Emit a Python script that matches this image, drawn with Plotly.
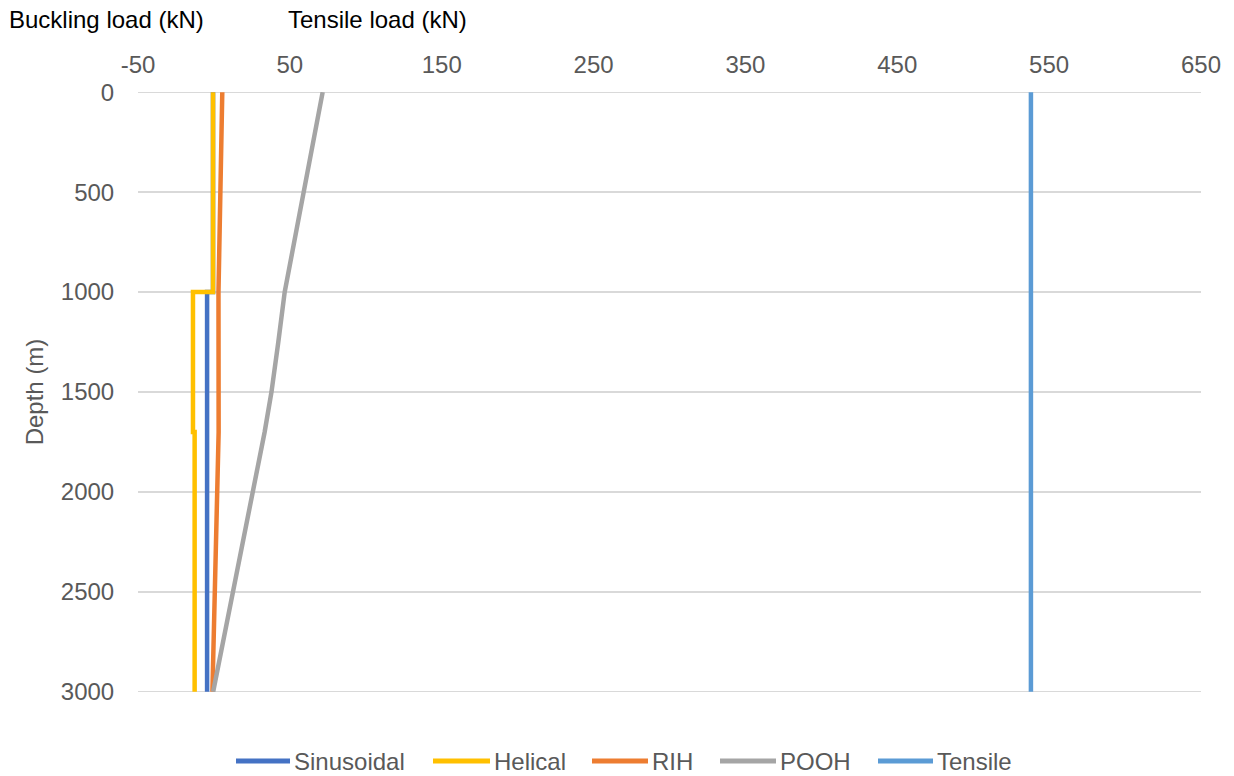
import plotly.graph_objects as go

# Depth stations (m) and loads (kN) for each curve
sin_depth = [0, 1000, 1000, 3000]
sin_load = [-0.6, -0.6, -4.5, -4.5]

hel_depth = [0, 1000, 1000, 1700, 1700, 3000]
hel_load = [-0.6, -0.6, -13.8, -13.8, -12.7, -12.7]

rih_depth = [0, 1000, 1700, 3000]
rih_load = [5.5, 3.0, 3.1, -1.0]

pooh_depth = [0, 1000, 1250, 1500, 1700, 2000, 3000]
pooh_load = [71.6, 46.6, 42.4, 37.9, 33.4, 25.5, -0.5]

ten_depth = [0, 3000]
ten_load = [538, 538]

x_ticks = [-50, 50, 150, 250, 350, 450, 550, 650]
x_tick_text = ["-50", "50", "150", "250", "350", "450", "550", "650"]
y_ticks = [0, 500, 1000, 1500, 2000, 2500, 3000]

FONT = "Liberation Sans, Arial, Helvetica, sans-serif"
GREY_TXT = "#595959"
GRID = "#D9D9D9"
FS = 24
LW = 4.5

series = [
    ("Sinusoidal", sin_load, sin_depth, "#4472C4"),
    ("Helical", hel_load, hel_depth, "#FFC000"),
    ("RIH", rih_load, rih_depth, "#ED7D31"),
    ("POOH", pooh_load, pooh_depth, "#A5A5A5"),
    ("Tensile", ten_load, ten_depth, "#5B9BD5"),
]

# plot-area geometry in pixels
W, H = 1234, 776
L, R, T, B = 138, 33, 92, 84
PW, PH = W - L - R, H - T - B


def px_x(px):
    return (px - L) / PW


def px_y(py):
    return (H - B - py) / PH


fig = go.Figure()
for name, xs, ys, col in series:
    fig.add_trace(go.Scatter(
        x=xs, y=ys, name=name, mode="lines",
        line=dict(color=col, width=LW),
        showlegend=False,
    ))

shapes = []
# gridlines at the two ends of the depth axis
for d in (y_ticks[0], y_ticks[-1]):
    shapes.append(dict(
        type="line", xref="paper", yref="y", layer="below",
        x0=0, x1=1, y0=d, y1=d,
        line=dict(color=GRID, width=1.5),
    ))

# legend row below the plot: sample line then label
legend_pos = [(236, 290), (433, 490), (592, 648), (720, 776), (878, 933)]
leg_y = 761
annotations = []
for (name, _, _, col), (x0, x1) in zip(series, legend_pos):
    shapes.append(dict(
        type="line", xref="paper", yref="paper",
        x0=px_x(x0), x1=px_x(x1), y0=px_y(leg_y), y1=px_y(leg_y),
        line=dict(color=col, width=5),
    ))
    annotations.append(dict(
        text=name, xref="paper", yref="paper",
        x=px_x(x1 + 2), y=px_y(leg_y), xanchor="left", yanchor="middle",
        showarrow=False, font=dict(size=FS, color=GREY_TXT),
    ))

annotations += [
    dict(text="Buckling load (kN)", xref="paper", yref="paper",
         x=px_x(7), y=px_y(20), xanchor="left", yanchor="middle",
         showarrow=False, font=dict(size=FS, color="#000000")),
    dict(text="Tensile load (kN)", xref="paper", yref="paper",
         x=px_x(286), y=px_y(20), xanchor="left", yanchor="middle",
         showarrow=False, font=dict(size=FS, color="#000000")),
]

fig.update_layout(
    width=W, height=H,
    margin=dict(l=L, r=R, t=T, b=B),
    paper_bgcolor="white", plot_bgcolor="white",
    font=dict(family=FONT, size=FS, color=GREY_TXT),
    showlegend=False,
    xaxis=dict(
        side="top", range=[-50, 650],
        tickvals=x_ticks, ticktext=x_tick_text,
        showgrid=False, zeroline=False, showline=False,
        ticks="outside", ticklen=8, tickcolor="rgba(0,0,0,0)",
        tickfont=dict(size=FS, color=GREY_TXT),
    ),
    yaxis=dict(
        range=[3001, -1], tickvals=y_ticks,
        showgrid=True, gridcolor=GRID, gridwidth=1.5,
        zeroline=False, showline=False,
        ticks="outside", ticklen=18, tickcolor="rgba(0,0,0,0)",
        tickfont=dict(size=FS, color=GREY_TXT),
        title=dict(text="Depth (m)", standoff=10,
                   font=dict(size=FS, color=GREY_TXT)),
    ),
    shapes=shapes,
    annotations=annotations,
)

fig.write_html("out.html")
